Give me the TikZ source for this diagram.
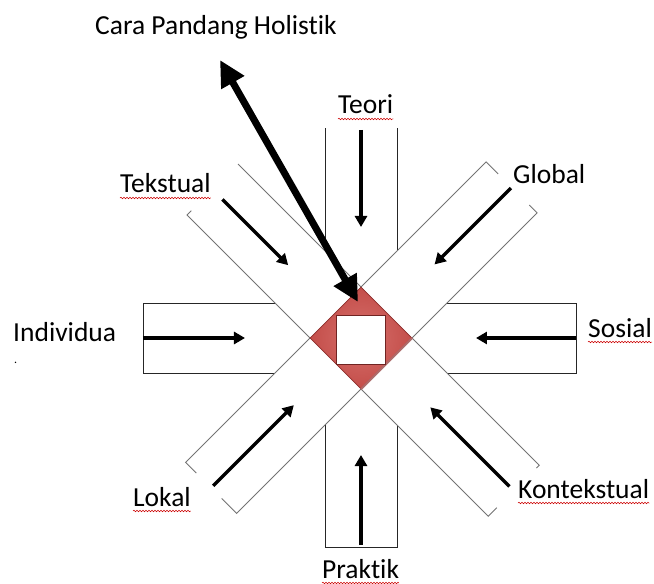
\documentclass[tikz,border=0pt]{standalone}
\usepackage{fontspec}
\setmainfont{Carlito}[Ligatures={NoCommon}]
\usetikzlibrary{arrows.meta,calc,shapes.geometric,decorations.pathmorphing}
\definecolor{diared}{RGB}{196,78,74}
\definecolor{diadark}{RGB}{140,45,43}
\definecolor{dialight}{RGB}{214,112,108}
\tikzset{
  lbl/.style    = { inner sep=0pt, anchor=base west, font=\fontsize{27.5}{32}\selectfont },
  wall/.style   = { draw=black!85, line width=0.9pt },
  dwall/.style  = { draw=black!55, line width=0.9pt },
  flow/.style   = { -{Triangle[length=11pt,width=12pt]}, line width=3.5pt },
  bigflow/.style= { {Triangle[length=26pt,width=25pt]}-{Triangle[length=26pt,width=25pt]}, line width=7pt },
  core/.style   = { diamond, draw=diadark, line width=0.6pt, inner sep=0pt,
    minimum width=102pt, minimum height=102pt, inner color=dialight, outer color=diared },
  hole/.style   = { draw=diadark!80!black, fill=white, line width=0.8pt, inner sep=0pt, minimum size=49pt },
  spell/.style  = { draw=red!80!black, line width=0.5pt, decorate,
    decoration={snake, amplitude=0.8pt, segment length=3pt} }
}

\begin{document}
\begin{tikzpicture}[x=1pt,y=1pt]
  \useasboundingbox (-361,-246) rectangle (293,338);
  % straight channels, closed at the far end
  \foreach \a/\w/\e in {-90/36/209, 180/35/218, 0/35/215} {
    \begin{scope}[rotate=\a]
      \draw[wall] (51+\w,\w) -- (\e,\w) -- (\e,-\w) -- (51+\w,-\w);
    \end{scope}
  }
  % top channel is open
  \draw[wall] (-36,87) -- (-36,210) (36,87) -- (36,210);
  % diagonal channels: angle / end / stubs
  \foreach \a/\e/\p/\q in {135/210/6/0, 45/213/17/11, -45/216/4/12, -135/212/21/15} {
    \begin{scope}[rotate=\a]
      \draw[dwall] (36,36) -- (\e,36) -- (\e,36-\p) (36,-36) -- (\e,-36) -- (\e,-36+\q);
    \end{scope}
  }
  % centre
  \node[core] (core) at (0,0) {};
  \draw[diadark!70, line width=2pt] (core.east) -- (core.south);
  \node[hole] (hole) at (0,-2) {};
  % inflows
  \foreach \n/\a/\s/\t in {teo/90/208/111, pra/-90/207/117, ind/180/218/116, sos/0/215/115,
                           tek/135/196/103, glo/45/212/104, kon/-45/210/98, lok/-135/209/95} {
    \coordinate (\n-s) at (\a:\s);
    \coordinate (\n-t) at (\a:\t);
    \path[flow] (\n-s) edge (\n-t);
  }
  % holistic view
  \coordinate (holist) at (-141,278);
  \coordinate (aim) at (-3,36);
  \path[bigflow] (aim) edge (holist);
  % labels
  \node[lbl] (cara) at (-266,303) {Cara Pandang Holistik};
  \node[lbl] (teori) at (-23,224) {Teori};
  \node[lbl] (tekstual) at (-241,145) {Tekstual};
  \node[lbl] (global) at (152,154) {Global};
  \node[lbl] (individua) at (-348,-4) {Individua};
  \node[lbl, font=\fontsize{12}{14}\selectfont] (dot) at (-347,-25) {.};
  \node[lbl] (sosial) at (227,1) {Sosial};
  \node[lbl] (lokal) at (-228,-168) {Lokal};
  \node[lbl] (kontekstual) at (157,-160) {Kontekstual};
  \node[lbl] (praktik) at (-39,-240) {Praktik};
  \foreach \n in {teori,tekstual,sosial,lokal,kontekstual,praktik}
    \draw[spell] ([yshift=-5pt]\n.base west) -- ([yshift=-5pt]\n.base east);
\end{tikzpicture}
\end{document}
